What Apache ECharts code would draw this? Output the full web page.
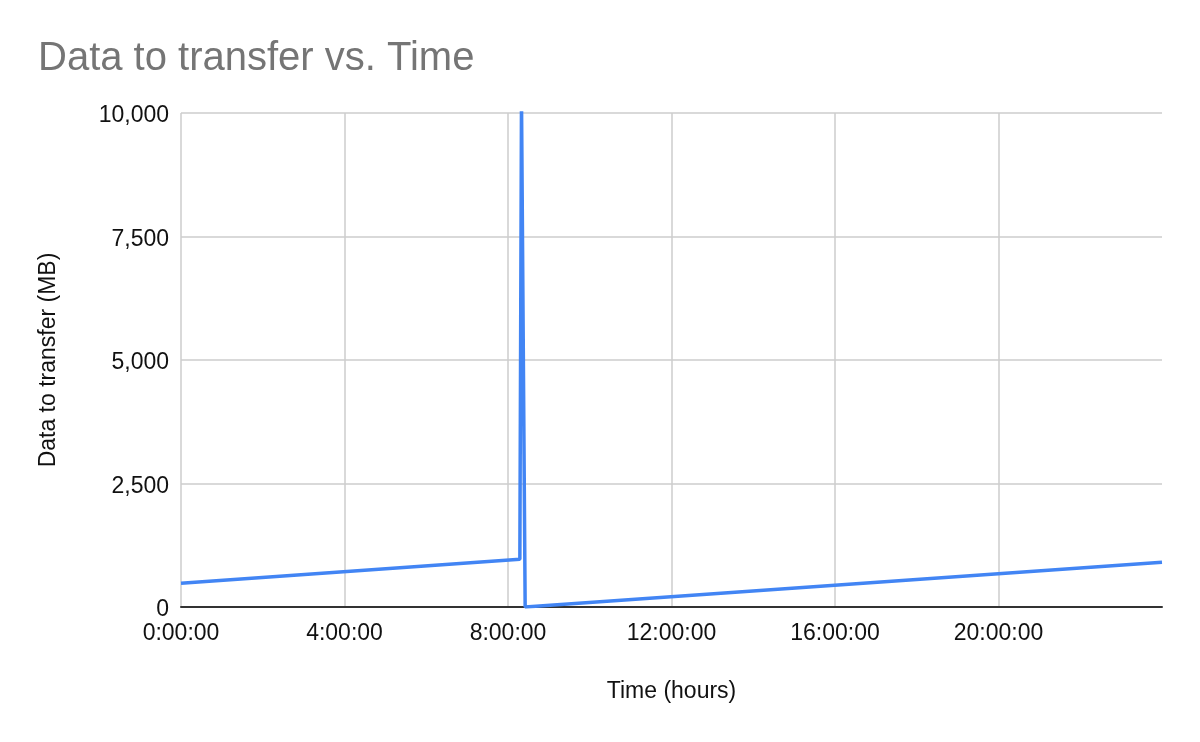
<!DOCTYPE html>
<html>
<head>
<meta charset="utf-8">
<script src="https://cdn.jsdelivr.net/npm/echarts@6/dist/echarts.min.js"></script>
<style>html,body{margin:0;padding:0;background:#fff;}#c{width:1200px;height:742px;}</style>
</head>
<body>
<div id="c"></div>
<script>
// Time in hours, data to transfer in MB
const timeHours = [0, 8.29, 8.33, 8.42, 24];
const dataMB = [480, 966, 10300, 0, 905];
const xTicks = [0, 4, 8, 12, 16, 20];
const yTicks = [0, 2500, 5000, 7500, 10000];

const chart = echarts.init(document.getElementById('c'));
const font = '"Liberation Sans", Arial, sans-serif';
chart.setOption({
  animation: false,
  backgroundColor: '#fff',
  title: {
    text: 'Data to transfer vs. Time',
    left: 33, top: 34,
    textStyle: { fontFamily: font, fontSize: 40, fontWeight: 'normal', color: '#757575' }
  },
  grid: { left: 181, right: 38, top: 113, bottom: 135 },
  xAxis: {
    type: 'value', min: 0, max: 24, interval: 4,
    name: 'Time (hours)', nameLocation: 'middle', nameGap: 73,
    nameTextStyle: { fontFamily: font, fontSize: 23, color: '#111' },
    axisLine: { show: true, lineStyle: { color: '#333', width: 2 } },
    axisTick: { show: false },
    axisLabel: {
      fontFamily: font, fontSize: 23, color: '#111', margin: 15, showMaxLabel: false,
      formatter: v => xTicks.includes(v) ? (v + ':00:00') : ''
    },
    splitLine: { show: true, showMaxLine: false, lineStyle: { color: '#cccccc', width: 1.5 } }
  },
  yAxis: {
    type: 'value', min: 0, max: 10000, interval: 2500,
    name: 'Data to transfer (MB)', nameLocation: 'middle', nameGap: 121,
    nameTextStyle: { fontFamily: font, fontSize: 23, color: '#111' },
    axisLine: { show: false },
    axisTick: { show: false },
    axisLabel: {
      fontFamily: font, fontSize: 23, color: '#111', margin: 12,
      formatter: v => yTicks.includes(v) ? '{a|' + v.toLocaleString('en-US') + '}' : '',
      rich: { a: { fontFamily: font, fontSize: 23, color: '#111', padding: [6, 0, 0, 0] } }
    },
    splitLine: { show: true, lineStyle: { color: '#cccccc', width: 1.5 } }
  },
  series: [{
    type: 'line',
    data: timeHours.map((t, i) => [t, dataMB[i]]),
    showSymbol: false,
    clip: true,
    lineStyle: { color: '#4285F4', width: 3.5 },
    itemStyle: { color: '#4285F4' }
  }]
});
</script>
</body>
</html>
